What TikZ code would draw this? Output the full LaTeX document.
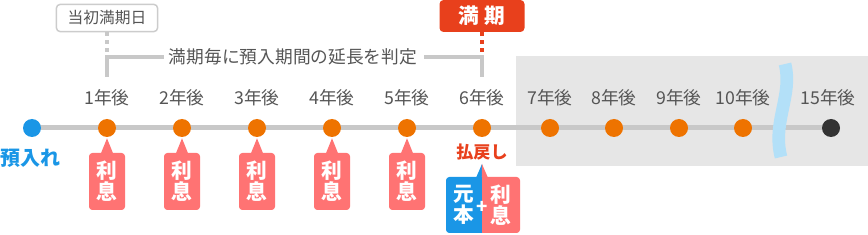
\documentclass[tikz,border=0pt]{standalone}
\usepackage{fontspec}
\setmainfont{Noto Sans CJK JP}
\usetikzlibrary{calc}
\definecolor{tlgray}{HTML}{C8C8C8}
\definecolor{bggray}{HTML}{E6E6E6}
\definecolor{txtgray}{HTML}{555555}
\definecolor{boxgray}{HTML}{CCCCCC}
\definecolor{dotorange}{HTML}{EE7300}
\definecolor{dotblue}{HTML}{1A96E6}
\definecolor{ipink}{HTML}{FF7373}
\definecolor{mred}{HTML}{E8401C}
\definecolor{wavblue}{HTML}{B3E0F8}
\definecolor{enddot}{HTML}{333333}

\begin{document}
\begin{tikzpicture}[
  x=0.75pt, y=-0.75pt,
  year/.style={inner sep=0pt, text=txtgray, font=\fontsize{13.3}{14}\selectfont},
  tick/.style={circle, inner sep=0pt, minimum size=13.5pt, fill=dotorange},
  interest/.style={
    rounded corners=2.5pt, align=center, inner sep=0pt,
    minimum width=27pt, minimum height=42.75pt, fill=ipink, text=white,
    font=\bfseries\fontsize{15.5}{15.5}\selectfont
  },
  tline/.style={draw=tlgray, line width=3.75pt},
  bracket/.style={draw=tlgray, line width=3pt},
  dots/.style={line width=3pt, dash pattern=on 2.5pt off 3.5pt}
]
\useasboundingbox (0,0) rectangle (868,235);

% later years, shaded
\fill[bggray] (516,56) rectangle (868,166);

% timeline
\coordinate (tl0) at (32,128);
\coordinate (tl15) at (831,128);
\draw[tline] (tl0) -- (tl15);

\node[tick, fill=dotblue] (d0) at (32,128) {};
\node[inner sep=0pt, text=dotblue, font=\bfseries\fontsize{15}{16}\selectfont] (dep) at (31,158) {預入れ};

\foreach \i/\x in {1/107,2/182,3/257,4/332,5/407,6/482,7/550,8/614,9/679,10/743} {
  \node[tick] (d\i) at (\x,128) {};
  \node[year] (y\i) at (\x,98) {\i 年後};
}
\node[tick, fill=enddot] (d15) at (831,128) {};
\node[year] (y15) at (828,98) {15年後};

% break in the line
\draw[wavblue, line width=9.5pt] (785,64) .. controls (793,95) and (772,122) .. (781,157);

% interest each year
\foreach \i/\x in {1/107,2/182,3/257,4/332,5/407} {
  \node[interest] (int\i) at (\x,181.5) {利\\息};
  \fill[ipink] ($(int\i.north)+(-6,0.5)$) -- ($(d\i.south)+(0,1)$) -- ($(int\i.north)+(6,0.5)$) -- cycle;
}

% payout at 6 years
\node[inner sep=0pt, text=mred, font=\bfseries\fontsize{12.8}{14}\selectfont] (pay) at (482,152) {払戻し};
\coordinate (tip6) at (482,164);
\node[interest, fill=dotblue, minimum height=42pt] (prin) at (464,205) {元\\本};
\node[interest, minimum width=28.5pt, minimum height=42pt] (int6) at (501,205) {利\\息};
\fill[dotblue] ($(prin.north east)+(-4,0)$) rectangle (prin.south east);
\fill[ipink] (int6.north west) rectangle ($(int6.south west)+(4,0)$);
\fill[dotblue] ($(prin.north east)+(-6,0.5)$) -- (tip6) -- ($(prin.north east)+(0,0.5)$) -- cycle;
\fill[ipink] ($(int6.north west)+(0,0.5)$) -- (tip6) -- ($(int6.north west)+(6,0.5)$) -- cycle;
\node[inner sep=0pt, text=white, font=\bfseries\fontsize{14}{14}\selectfont] (plus) at (482,207) {+};

% original maturity and judging bracket
\node[draw=boxgray, line width=1.1pt, rounded corners=3pt, fill=white, text=txtgray,
  minimum width=76pt, minimum height=20.5pt, inner sep=0pt,
  font=\fontsize{11.8}{12}\selectfont] (orig) at (107,18) {当初満期日};
\node[fill=mred, rounded corners=3pt, minimum width=63.75pt, minimum height=24pt,
  inner sep=0pt, text=white, font=\bfseries\fontsize{15.5}{16}\selectfont] (mat) at (482,16) {満\hspace{4pt}期};
\node[inner sep=0pt, text=txtgray, font=\fontsize{13.3}{14}\selectfont] (judge) at (293,57) {満期毎に預入期間の延長を判定};

\coordinate (bl) at (107,77);
\coordinate (blc) at (107,57);
\coordinate (br) at (482,77);
\coordinate (brc) at (482,57);
\draw[bracket] (bl) -- (blc) -- ($(judge.west)+(-5,0)$);
\draw[bracket] ($(judge.east)+(7,0)$) -- (brc) -- (br);
\draw[dots, tlgray] (orig.south) -- ($(blc)+(0,-4)$);
\draw[dots, mred] (mat.south) -- ($(brc)+(0,-4)$);
\end{tikzpicture}
\end{document}
